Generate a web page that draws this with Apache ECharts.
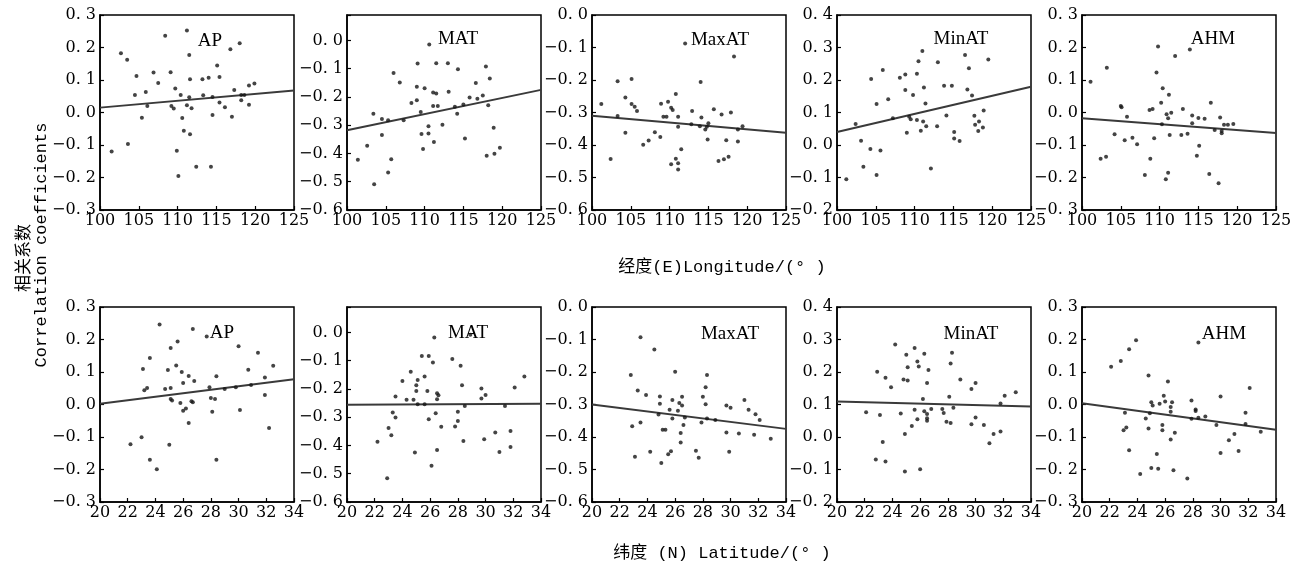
<!DOCTYPE html>
<html><head><meta charset="utf-8">
<script src="https://cdn.jsdelivr.net/npm/echarts@6/dist/echarts.min.js"></script>
<style>html,body{margin:0;padding:0;background:#fff}#c{width:1295px;height:569px}</style>
</head><body><div id="c"></div>
<script>
// ---------- data ----------
const variables = ['AP', 'MAT', 'MaxAT', 'MinAT', 'AHM'];
const yMin = [-0.3, -0.6, -0.6, -0.2, -0.3];
const yMax = [0.3, 0.09, 0.0, 0.4, 0.3];
const lonRange = [100, 125];
const latRange = [20, 34];
const lonInterval = 5;
const latInterval = 2;
const xTitleLon = '经度(E)Longitude/(° )';
const xTitleLat = '纬度 (N) Latitude/(° )';
const yTitleCn = '相关系数';
const yTitleEn = 'Correlation coefficients';

const apLon = [[108.4,0.236],[111.2,0.252],[102.7,0.182],[103.5,0.162],[116.8,0.195],[118.0,0.213],[111.5,0.177],[115.1,0.145],[104.7,0.112],[106.9,0.123],[109.1,0.124],[107.5,0.091],[111.6,0.102],[113.2,0.102],[114.0,0.107],[115.4,0.109],[109.7,0.074],[104.5,0.054],[105.9,0.063],[110.4,0.054],[111.5,0.047],[113.3,0.053],[114.5,0.048],[117.3,0.069],[118.2,0.054],[119.2,0.083],[119.9,0.089],[118.6,0.054],[115.4,0.031],[106.1,0.020],[109.2,0.020],[109.5,0.012],[111.2,0.022],[111.8,0.013],[116.1,0.016],[118.2,0.038],[119.2,0.024],[105.4,-0.016],[110.6,-0.017],[114.5,-0.008],[117.0,-0.013],[110.8,-0.056],[111.6,-0.067],[103.6,-0.097],[101.5,-0.12],[109.9,-0.118],[112.4,-0.167],[114.3,-0.167],[110.1,-0.195]];
const matLon = [[110.6,-0.014],[109.1,-0.082],[111.5,-0.081],[113.0,-0.081],[114.3,-0.102],[117.9,-0.092],[106.0,-0.115],[106.8,-0.149],[118.4,-0.135],[116.6,-0.151],[109.0,-0.164],[110.0,-0.169],[111.1,-0.184],[111.5,-0.188],[113.1,-0.182],[115.8,-0.202],[116.8,-0.206],[117.5,-0.195],[109.0,-0.212],[108.3,-0.221],[111.1,-0.232],[111.7,-0.232],[113.9,-0.235],[115.0,-0.227],[118.2,-0.229],[103.4,-0.259],[109.5,-0.253],[114.2,-0.259],[104.5,-0.278],[105.3,-0.282],[107.3,-0.282],[112.3,-0.298],[110.5,-0.304],[104.5,-0.335],[109.6,-0.331],[110.5,-0.329],[118.9,-0.309],[115.2,-0.347],[111.2,-0.359],[109.8,-0.384],[102.6,-0.373],[119.7,-0.38],[118.0,-0.408],[119.0,-0.401],[101.4,-0.422],[105.7,-0.42],[105.3,-0.467],[103.5,-0.509]];
const maxatLon = [[112.0,-0.088],[118.3,-0.128],[103.3,-0.204],[105.1,-0.197],[114.0,-0.206],[101.2,-0.274],[104.3,-0.254],[105.1,-0.274],[105.5,-0.282],[105.8,-0.295],[108.9,-0.273],[109.8,-0.267],[110.8,-0.243],[110.2,-0.285],[110.4,-0.292],[112.9,-0.295],[115.7,-0.29],[116.7,-0.306],[117.9,-0.3],[103.3,-0.311],[109.2,-0.313],[109.6,-0.313],[111.1,-0.313],[111.1,-0.344],[112.8,-0.336],[114.1,-0.315],[113.9,-0.342],[114.8,-0.344],[115.0,-0.333],[114.6,-0.352],[118.8,-0.352],[119.4,-0.342],[104.3,-0.362],[108.1,-0.361],[108.8,-0.375],[114.9,-0.383],[117.3,-0.385],[118.8,-0.389],[106.6,-0.399],[107.3,-0.386],[111.5,-0.413],[102.4,-0.443],[110.8,-0.442],[110.2,-0.459],[111.1,-0.456],[111.1,-0.475],[116.3,-0.449],[117.0,-0.444],[117.6,-0.436]];
const minatLon = [[111.0,0.289],[110.5,0.258],[113.0,0.255],[116.5,0.277],[117.0,0.236],[119.5,0.263],[105.9,0.231],[104.4,0.203],[108.1,0.207],[108.8,0.217],[110.3,0.219],[108.8,0.169],[111.2,0.177],[109.8,0.154],[113.8,0.182],[114.8,0.182],[116.8,0.171],[117.4,0.152],[105.1,0.126],[106.6,0.141],[111.4,0.128],[102.4,0.065],[107.2,0.082],[109.3,0.087],[109.5,0.079],[110.3,0.077],[114.1,0.091],[117.7,0.09],[118.9,0.106],[118.3,0.072],[117.8,0.062],[111.1,0.072],[111.5,0.058],[112.9,0.058],[110.8,0.044],[118.2,0.043],[118.8,0.054],[109.0,0.038],[115.1,0.04],[115.1,0.02],[115.8,0.012],[103.1,0.013],[104.3,-0.012],[105.6,-0.017],[103.4,-0.067],[105.1,-0.092],[112.1,-0.072],[101.2,-0.105]];
const ahmLon = [[109.8,0.203],[112.0,0.174],[113.9,0.194],[103.2,0.138],[101.1,0.095],[109.6,0.123],[110.4,0.075],[111.2,0.055],[110.2,0.030],[105.0,0.02],[105.1,0.016],[108.7,0.008],[109.1,0.011],[113.0,0.011],[116.6,0.03],[110.9,-0.005],[111.5,-0.001],[105.8,-0.013],[111.1,-0.018],[114.2,-0.009],[115.0,-0.017],[115.8,-0.019],[117.8,-0.015],[110.3,-0.036],[114.2,-0.033],[117.1,-0.054],[118.0,-0.057],[118.3,-0.038],[118.8,-0.038],[119.5,-0.035],[118.0,-0.064],[104.2,-0.067],[111.3,-0.069],[112.8,-0.069],[113.6,-0.065],[105.5,-0.085],[106.5,-0.078],[109.3,-0.079],[107.1,-0.098],[115.1,-0.102],[114.8,-0.133],[102.4,-0.142],[103.1,-0.136],[108.8,-0.142],[108.1,-0.192],[111.1,-0.185],[110.8,-0.205],[116.4,-0.189],[117.6,-0.218]];

const apLat = [[24.3,0.246],[26.7,0.232],[27.7,0.209],[25.6,0.194],[25.1,0.174],[30.0,0.179],[31.4,0.159],[23.6,0.143],[23.1,0.109],[24.9,0.106],[25.5,0.12],[30.7,0.107],[32.5,0.119],[25.9,0.1],[26.4,0.088],[26.8,0.072],[28.4,0.087],[26.0,0.066],[31.9,0.083],[23.2,0.044],[23.4,0.051],[24.7,0.048],[25.1,0.051],[27.9,0.053],[29.0,0.048],[29.8,0.053],[30.9,0.06],[31.9,0.029],[25.1,0.017],[25.2,0.012],[25.8,0.005],[26.6,0.01],[26.7,0.007],[28.0,0.02],[28.3,0.017],[26.0,-0.019],[26.2,-0.012],[28.1,-0.022],[30.1,-0.017],[26.4,-0.057],[32.2,-0.072],[23.0,-0.101],[22.2,-0.122],[25.0,-0.124],[23.6,-0.17],[28.4,-0.17],[24.1,-0.199]];
const matLat = [[26.3,-0.018],[28.9,-0.008],[25.4,-0.083],[25.9,-0.083],[26.2,-0.106],[27.6,-0.094],[28.2,-0.118],[24.6,-0.139],[25.6,-0.156],[32.8,-0.156],[24.0,-0.172],[25.1,-0.168],[28.3,-0.187],[25.0,-0.187],[32.1,-0.195],[29.7,-0.198],[25.0,-0.207],[25.8,-0.207],[26.5,-0.215],[26.6,-0.222],[30.0,-0.221],[29.7,-0.234],[23.5,-0.227],[24.3,-0.238],[24.8,-0.238],[25.6,-0.254],[25.1,-0.254],[26.5,-0.236],[28.5,-0.26],[31.4,-0.26],[23.3,-0.283],[23.5,-0.301],[26.4,-0.286],[28.0,-0.281],[25.9,-0.307],[28.0,-0.313],[26.8,-0.334],[27.8,-0.333],[23.0,-0.338],[23.2,-0.364],[30.7,-0.354],[31.8,-0.349],[29.9,-0.378],[28.4,-0.384],[22.2,-0.387],[31.8,-0.405],[26.5,-0.416],[24.9,-0.425],[31.0,-0.423],[26.1,-0.472],[22.9,-0.516]];
const maxatLat = [[23.5,-0.093],[24.5,-0.131],[22.8,-0.209],[26.0,-0.199],[28.3,-0.209],[23.3,-0.257],[23.9,-0.271],[24.9,-0.275],[24.9,-0.298],[25.8,-0.286],[26.5,-0.276],[26.3,-0.295],[26.5,-0.303],[28.0,-0.276],[28.2,-0.247],[28.2,-0.299],[29.7,-0.303],[30.0,-0.31],[31.0,-0.286],[31.3,-0.316],[25.6,-0.316],[26.2,-0.319],[24.8,-0.331],[25.8,-0.343],[26.7,-0.34],[28.3,-0.343],[28.9,-0.348],[27.9,-0.355],[31.8,-0.33],[32.1,-0.348],[22.9,-0.367],[23.5,-0.355],[26.6,-0.363],[25.1,-0.378],[25.3,-0.378],[26.4,-0.388],[29.7,-0.386],[30.6,-0.389],[31.7,-0.393],[32.9,-0.405],[26.4,-0.417],[24.2,-0.445],[27.5,-0.442],[29.9,-0.445],[25.5,-0.453],[25.7,-0.444],[23.1,-0.461],[27.7,-0.464],[25.0,-0.48]];
const minatLat = [[24.2,0.285],[25.6,0.274],[26.3,0.256],[25.0,0.253],[28.3,0.259],[22.9,0.201],[25.8,0.232],[25.9,0.217],[25.1,0.215],[26.6,0.206],[28.2,0.226],[23.5,0.182],[24.8,0.177],[25.1,0.174],[28.9,0.177],[26.5,0.166],[30.0,0.166],[29.7,0.148],[23.9,0.153],[26.2,0.117],[28.1,0.124],[32.1,0.127],[32.9,0.138],[31.8,0.103],[22.1,0.076],[23.1,0.068],[24.6,0.072],[25.6,0.084],[26.3,0.079],[26.5,0.071],[26.8,0.086],[27.6,0.086],[27.7,0.074],[28.4,0.09],[25.8,0.055],[26.5,0.058],[26.5,0.05],[27.9,0.047],[28.2,0.043],[30.0,0.06],[29.7,0.039],[30.6,0.037],[25.4,0.034],[24.9,0.009],[31.3,0.009],[31.8,0.017],[31.0,-0.019],[23.3,-0.015],[22.8,-0.069],[23.5,-0.075],[24.9,-0.106],[26.0,-0.099]];
const ahmLat = [[23.9,0.198],[28.4,0.191],[23.4,0.17],[22.8,0.134],[22.1,0.116],[24.8,0.089],[26.2,0.071],[32.1,0.051],[25.9,0.027],[30.0,0.025],[27.9,0.012],[25.0,0.007],[26.0,0.009],[26.5,0.007],[25.6,0.002],[25.1,-0.003],[26.4,-0.008],[26.4,-0.022],[28.2,-0.015],[28.2,-0.02],[23.1,-0.025],[24.9,-0.027],[31.8,-0.025],[24.6,-0.043],[27.9,-0.044],[28.4,-0.041],[28.9,-0.037],[29.7,-0.063],[31.8,-0.06],[23.2,-0.071],[23.0,-0.079],[24.8,-0.074],[25.8,-0.063],[25.8,-0.079],[26.7,-0.087],[32.9,-0.084],[31.0,-0.091],[26.4,-0.108],[30.6,-0.11],[23.4,-0.141],[30.0,-0.149],[31.3,-0.143],[25.4,-0.152],[25.0,-0.195],[25.5,-0.198],[26.6,-0.202],[24.2,-0.214],[27.6,-0.228]];

// fitted line values at the two ends of each x range
const fitLon = [[0.015, 0.068], [-0.318, -0.175], [-0.31, -0.362], [0.04, 0.179], [-0.018, -0.063]];
const fitLat = [[0.002, 0.078], [-0.256, -0.252], [-0.30, -0.375], [0.109, 0.094], [0.004, -0.078]];

const lonPoints = [apLon, matLon, maxatLon, minatLon, ahmLon];
const latPoints = [apLat, matLat, maxatLat, minatLat, ahmLat];

// ---------- layout / style ----------
const lefts = [100, 347, 592, 837, 1082];
const tops = [15, 307];
const gw = 194, gh = 195;
const labelPos = [
  [[210, 41], [458, 39], [720, 40], [961, 39], [1213, 39]],
  [[222, 333], [468, 333], [730, 334], [971, 334], [1224, 334]]
];
const tickFont = 'DejaVu Serif';

function fmtY(v) {
  const r = Math.round(v * 10);
  if (Math.abs(v * 10 - r) > 1e-6) return '';
  const a = (Math.abs(r) / 10).toFixed(1).replace('.', '. ');
  return (r < 0 ? '\u2212' : '') + a;
}

const grid = [], xAxis = [], yAxis = [], series = [], graphic = [];
for (let row = 0; row < 2; row++) {
  for (let k = 0; k < 5; k++) {
    const gi = row * 5 + k;
    grid.push({ left: lefts[k], top: tops[row], width: gw, height: gh, show: true,
      borderColor: '#000', borderWidth: 1.5, containLabel: false });
    const xr = row === 0 ? lonRange : latRange;
    xAxis.push({ type: 'value', gridIndex: gi, min: xr[0], max: xr[1],
      interval: row === 0 ? lonInterval : latInterval,
      axisLine: { show: true, onZero: false, lineStyle: { color: '#000', width: 1.5 } },
      axisTick: { show: true, inside: true, length: 4, lineStyle: { color: '#000', width: 1.2 } },
      axisLabel: { color: '#000', fontFamily: tickFont, fontSize: 16, margin: 3, showMinLabel: true, showMaxLabel: true },
      splitLine: { show: false } });
    yAxis.push({ type: 'value', gridIndex: gi, min: yMin[k], max: yMax[k], interval: 0.1,
      axisLine: { show: true, onZero: false, lineStyle: { color: '#000', width: 1.5 } },
      axisTick: { show: true, inside: true, length: 4, lineStyle: { color: '#000', width: 1.2 } },
      axisLabel: { color: '#000', fontFamily: tickFont, fontSize: 16, margin: 4, formatter: fmtY },
      splitLine: { show: false } });
    const pts = row === 0 ? lonPoints[k] : latPoints[k];
    const fit = row === 0 ? fitLon[k] : fitLat[k];
    series.push({ type: 'scatter', xAxisIndex: gi, yAxisIndex: gi, data: pts,
      symbol: 'circle', symbolSize: 4, itemStyle: { color: '#151515' }, silent: true });
    series.push({ type: 'line', xAxisIndex: gi, yAxisIndex: gi,
      data: [[xr[0], fit[0]], [xr[1], fit[1]]], symbol: 'none',
      lineStyle: { color: '#3a3a3a', width: 2 }, silent: true, z: 1 });
    graphic.push({ type: 'text', x: labelPos[row][k][0], y: labelPos[row][k][1],
      style: { text: variables[k], font: '19px "Liberation Serif"', fill: '#000',
        textAlign: 'center', textVerticalAlign: 'middle' } });
  }
}
const titleFont = '17px "Liberation Mono", "Noto Sans CJK SC"';
graphic.push({ type: 'text', x: 722, y: 267, style: { text: xTitleLon, font: titleFont, fill: '#000', textAlign: 'center', textVerticalAlign: 'middle' } });
graphic.push({ type: 'text', x: 722, y: 553, style: { text: xTitleLat, font: titleFont, fill: '#000', textAlign: 'center', textVerticalAlign: 'middle' } });
graphic.push({ type: 'text', x: 23, y: 258, rotation: Math.PI / 2, style: { text: yTitleCn, font: '17px "Noto Sans CJK SC"', fill: '#000', textAlign: 'center', textVerticalAlign: 'middle' } });
graphic.push({ type: 'text', x: 41, y: 245, rotation: Math.PI / 2, style: { text: yTitleEn, font: '17px "Liberation Mono"', fill: '#000', textAlign: 'center', textVerticalAlign: 'middle' } });

const chart = echarts.init(document.getElementById('c'), null, { renderer: 'canvas' });
chart.setOption({ animation: false, backgroundColor: '#fff', grid, xAxis, yAxis, series, graphic });
</script></body></html>
